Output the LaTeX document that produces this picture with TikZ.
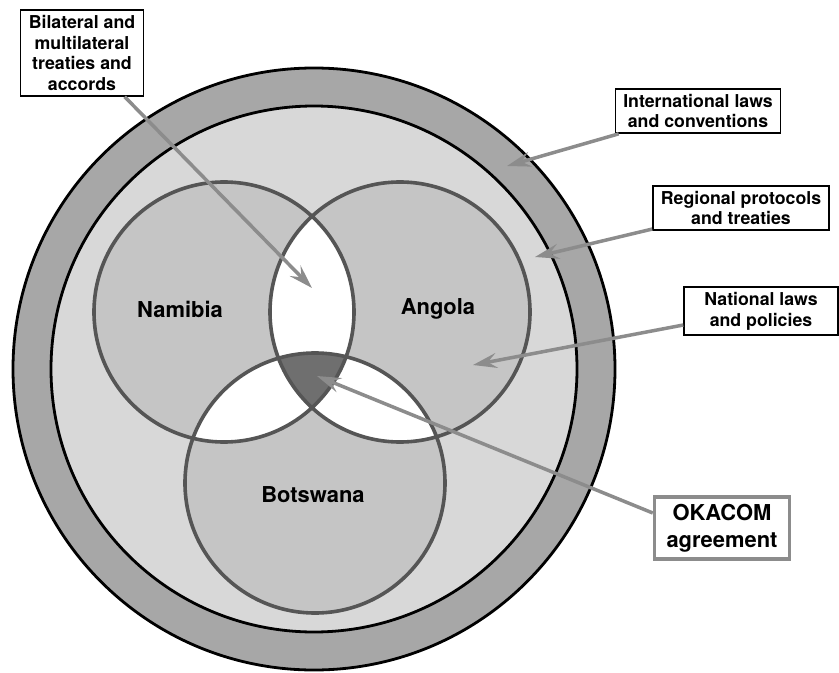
\documentclass[tikz,border=0pt]{standalone}
\usepackage{fontspec}
\setmainfont{TeX Gyre Heros}
\usetikzlibrary{arrows.meta, positioning}

\definecolor{ringgray}{HTML}{A7A7A7}
\definecolor{innergray}{HTML}{D8D8D8}
\definecolor{venngray}{HTML}{C5C5C5}
\definecolor{coregray}{HTML}{6F6F6F}
\definecolor{edgegray}{HTML}{555555}
\definecolor{arrowgray}{HTML}{8C8C8C}

\begin{document}
\begin{tikzpicture}[x=1bp,y=-1bp,
    box/.style={draw=black,line width=1.4bp,fill=white,align=center,
        inner xsep=8bp,inner ysep=5bp,font=\fontsize{17.8}{21}\selectfont\bfseries},
    okabox/.style={draw=arrowgray,line width=3.5bp,fill=white,align=center,
        inner xsep=12bp,inner ysep=7bp,font=\fontsize{22}{27}\selectfont\bfseries},
    country/.style={font=\fontsize{22}{25}\selectfont\bfseries},
    ptr/.style={draw=arrowgray,line width=3.5bp,-{Stealth[length=24bp,width=15bp,inset=9bp]}}]
        \useasboundingbox (0,0) rectangle (839,673);
        % centres of the rings and of the three countries
        \coordinate (world) at (314,369);
        \coordinate (nam) at (224,312);
        \coordinate (ang) at (400,312);
        \coordinate (bot) at (315,483);

        % international ring and regional disk
        \fill[ringgray] (world) circle[radius=301];
        \draw[black,line width=2.8bp] (world) circle[radius=301];
        \fill[innergray] (world) circle[radius=263];
        \draw[black,line width=2.8bp] (world) circle[radius=263];

        % national laws
        \fill[venngray] (nam) circle[radius=130] (ang) circle[radius=130] (bot) circle[radius=130];
        % bilateral overlaps
        \begin{scope}
            \clip (nam) circle[radius=130];
            \fill[white] (ang) circle[radius=130];
            \fill[white] (bot) circle[radius=130];
        \end{scope}
        \begin{scope}
            \clip (ang) circle[radius=130];
            \fill[white] (bot) circle[radius=130];
        \end{scope}
        % OKACOM core
        \begin{scope}
            \clip (nam) circle[radius=130];
            \clip (ang) circle[radius=130];
            \fill[coregray] (bot) circle[radius=130];
        \end{scope}
        \draw[edgegray,line width=3.6bp] (nam) circle[radius=130] (ang) circle[radius=130] (bot) circle[radius=130];

        \node[country](namibia) at (180,309) {Namibia};
        \node[country](angola) at (438,309) {Angola};
        \node[country](botswana) at (313,495) {Botswana};

        % labels and pointers
        \node[box](bil) at (82,53) {Bilateral and\\multilateral\\treaties and\\accords};
        \node[box](intl) at (698,111) {International laws\\and conventions};
        \node[box](regl) at (741,208) {Regional protocols\\and treaties};
        \node[box,minimum width=154bp](natl) at (761,311) {National laws\\and policies};
        \node[okabox](oka) at (722,528) {OKACOM\\agreement};

        \coordinate (tipBil) at (312,288);
        \coordinate (tipIntl) at (507,166);
        \coordinate (tipRegl) at (535,257);
        \coordinate (tipNatl) at (473,365);
        \coordinate (tipOka) at (317,376);

        \draw[ptr] (bil) -- (tipBil);
        \draw[ptr] (intl) -- (tipIntl);
        \draw[ptr] (regl) -- (tipRegl);
        \draw[ptr] ([yshift=-14bp]natl.west) -- (tipNatl);
        \draw[ptr] ([yshift=15bp]oka.west) -- (tipOka);
\end{tikzpicture}
\end{document}
